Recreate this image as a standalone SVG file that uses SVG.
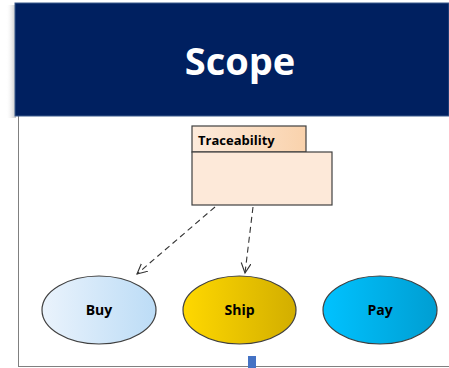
<svg xmlns="http://www.w3.org/2000/svg" width="449" height="368" viewBox="0 0 449 368">
<style>
.lbl{font-family:"Open Sans","Liberation Sans",sans-serif;font-weight:bold;font-size:14px;fill:#000;text-anchor:middle}
.node{stroke:#404040;stroke-width:1.2}
.conn{stroke:#333;stroke-width:1.1;fill:none;stroke-dasharray:6,4}
</style>
<defs>
<linearGradient id="gBuy" x1="0" x2="1"><stop offset="0" stop-color="#EAF3FC"/><stop offset="1" stop-color="#BCDCF6"/></linearGradient>
<linearGradient id="gShip" x1="0" x2="1"><stop offset="0" stop-color="#FFD800"/><stop offset="1" stop-color="#D2AE00"/></linearGradient>
<linearGradient id="gPay" x1="0" x2="1"><stop offset="0" stop-color="#00C2FF"/><stop offset="1" stop-color="#009ED2"/></linearGradient>
<linearGradient id="gTab" x1="0" x2="1"><stop offset="0" stop-color="#FDEBDC"/><stop offset="1" stop-color="#F9D2AC"/></linearGradient>
<linearGradient id="gShadow" x1="0" x2="1"><stop offset="0" stop-color="#ffffff" stop-opacity="0"/><stop offset="1" stop-color="#9a9a9a" stop-opacity="0.6"/></linearGradient>
<marker id="arr" markerWidth="12" markerHeight="12" refX="10" refY="5" orient="auto" markerUnits="userSpaceOnUse"><path d="M0,0 L10,5 L0,10" fill="none" stroke="#333" stroke-width="1.1"/></marker>
</defs>
<rect width="449" height="368" fill="#fff"/>
<g id="frame">
<rect x="6" y="5" width="10" height="113" fill="url(#gShadow)"/>
<line x1="18.5" y1="116" x2="18.5" y2="366" stroke="#808080" stroke-width="1"/>
<line x1="18" y1="366.5" x2="449" y2="366.5" stroke="#808080" stroke-width="1"/>
<rect x="248" y="356" width="8" height="12" fill="#4472C4"/>
</g>
<g id="header">
<rect x="15" y="3" width="434" height="113" fill="#002060" stroke="#3a5a8c" stroke-width="1"/>
<text x="240" y="75" font-family="Open Sans,Liberation Sans,sans-serif" font-weight="bold" font-size="38" fill="#fff" text-anchor="middle">Scope</text>
</g>
<g id="connectors">
<line class="conn" x1="215" y1="207" x2="137" y2="274" marker-end="url(#arr)"/>
<line class="conn" x1="253" y1="207" x2="245" y2="273" marker-end="url(#arr)"/>
</g>
<g id="traceability">
<rect class="node" x="192" y="126" width="114" height="26" fill="url(#gTab)"/>
<rect class="node" x="192" y="152" width="140" height="53" fill="#FDE9D9"/>
<text x="198" y="145" font-family="Open Sans,Liberation Sans,sans-serif" font-weight="bold" font-size="13" fill="#000">Traceability</text>
</g>
<g id="buy">
<ellipse class="node" cx="99" cy="310" rx="57" ry="34" fill="url(#gBuy)"/>
<text class="lbl" x="99" y="315">Buy</text>
</g>
<g id="ship">
<ellipse class="node" cx="239.5" cy="310" rx="56.5" ry="34" fill="url(#gShip)"/>
<text class="lbl" x="239.5" y="315">Ship</text>
</g>
<g id="pay">
<ellipse class="node" cx="380" cy="310" rx="57" ry="34" fill="url(#gPay)"/>
<text class="lbl" x="380" y="315">Pay</text>
</g>
</svg>
